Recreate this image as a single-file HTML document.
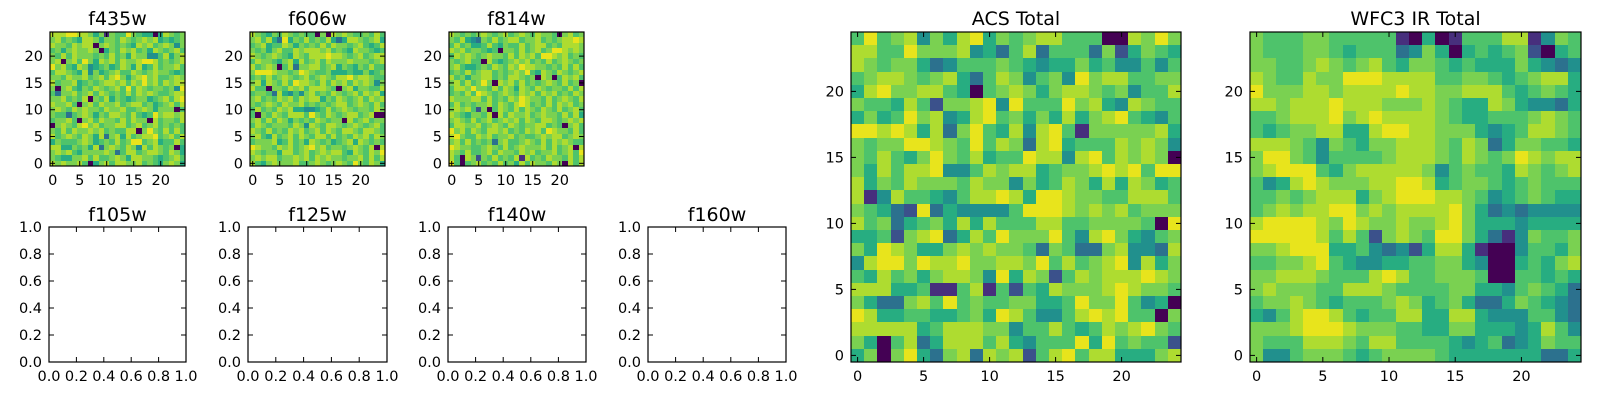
<!DOCTYPE html>
<html><head><meta charset="utf-8"><style>
html,body{margin:0;padding:0;background:#fff;width:1600px;height:400px;overflow:hidden}
svg text{font-family:"DejaVu Sans","Liberation Sans",sans-serif;fill:#000}
</style></head><body>
<svg id="fig" width="1600" height="400" viewBox="0 0 1600 400" xmlns="http://www.w3.org/2000/svg"></svg>
<script>
// ---- data (rows listed from top row y=24 down to y=0; digits 0-9 = relative flux level) ----
const acsRows = [
"69678 47589 57678 86660 08797","88669 77784 53683 66637 25765","87677 53466 67654 55756 44646",
"67887 67853 68746 74978 86677","58977 88650 67875 78876 74668","76658 62778 94966 69785 48766",
"57569 78458 96757 58578 96546","99898 58379 65848 96177 77785","76779 98769 68738 95666 87874",
"76865 79768 56698 84896 87870","75868 89446 87885 67789 89699","85768 77768 77475 68758 58756",
"81486 65468 89859 98776 68886","76532 93544 44699 98787 86777","86735 67585 86668 86677 77609",
"55627 89358 69777 96489 75467","75987 55787 87763 76337 84438","48997 98897 78879 68678 94857",
"65867 57887 49587 26878 88987","88855 61168 16265 87778 98776","75337 86967 66775 56977 96450",
"98556 65567 59864 46898 96607","88888 56888 77466 86568 78976","75068 35888 68546 66959 67662",
"57079 53783 87826 89688 55578"];
const wfc3Rows = [
"76667 76666 61050 16668 81476","76667 76566 63475 05656 72056","77667 87678 65776 56555 75434",
"87668 77999 88886 67765 67885","97778 87888 89887 78886 56765","88788 89888 77787 65587 54435",
"66788 89789 88887 65566 67876","65677 88558 99887 77545 68876","88876 47657 78887 68735 77665",
"79976 46666 78887 68767 98788","78999 65788 88874 67665 87678","64589 87778 89985 67765 67666",
"66767 88857 89998 87645 67655","67878 89978 78888 97534 34444","89999 87987 78778 97555 45555",
"99999 86862 78769 97531 47667","77899 95564 34258 85100 46657","66778 96544 55667 75400 56578",
"77888 76668 98667 77600 66565","78777 66888 76666 77554 67653","67787 65666 78756 75335 76543",
"54689 98656 68855 88544 46643","77789 99877 76655 77555 45864","76668 88768 86666 54563 45766",
"74467 77656 77776 55555 55335"];
const f435Rows = [
"88899 88757 17669 76550 58767","78676 58875 77687 67878 56567","87768 78807 87676 58786 78747",
"67578 77870 57687 86758 76786","76868 77767 68675 87744 68578","78078 69758 78687 78998 67678",
"97865 87456 75687 58568 67786","68876 58475 67866 87678 77656","77687 78678 68975 78978 66787",
"86778 56767 88786 87978 68788","70786 57687 67869 68767 76749","63778 67868 76768 68787 66788",
"77867 68076 85765 67756 78689","87786 07868 77867 88675 67868","78768 78776 87786 67875 77706",
"76636 78757 68876 86569 78878","67786 07868 77686 87708 67768","07876 89786 77886 78678 67676",
"76868 77878 67668 80797 68686","86787 68758 37858 67889 67868","57666 78756 76867 99678 56686",
"88557 67583 78768 74868 76705","78786 57777 87368 86788 76875","76557 78686 67875 88776 56786",
"87877 86057 86887 78676 57875"];
const f606Rows = [
"87657 68767 66070 87876 67686","78685 39576 86768 53588 76785","67856 68757 67686 87767 86568",
"76757 86687 88878 67658 77656","87678 76587 68889 88767 86788","68776 57858 67868 77787 77678",
"86787 06837 78867 85765 76866","79998 77679 87667 55565 57567","67686 78767 86787 68897 88766",
"78587 68698 87686 87868 78747","86607 76878 68887 60785 77668","67763 85464 78676 87678 68785",
"78676 87868 78857 68767 86878","76787 68778 67676 78867 87686","68676 87855 44568 67876 77687",
"60768 76888 69768 76788 67800","78686 87576 76876 77086 78677","68767 77687 48768 87678 76786",
"87686 76878 67868 76887 68876","78658 67868 76886 86768 78687","67778 56867 58767 56785 87676",
"98776 87867 89786 77678 76808","87677 58867 86787 88658 76879","78788 67787 86878 77677 86868",
"86578 77786 67876 78769 76875"];
const f814Rows = [
"87676 78767 86787 68776 07867","76854 37686 78867 78676 78898","68675 56865 76686 78867 68887",
"87867 76560 77686 78679 98787","68787 67877 68687 86998 78676","76786 60865 67878 67686 78767",
"78655 67687 68798 87767 68686","67686 78867 67879 65876 87678","86757 78867 68876 70870 68786",
"78686 79708 78686 76787 68670","68879 77686 87587 68767 76868","67686 98767 87687 86878 67687",
"87778 86867 68798 77686 78768","68676 77868 76898 67686 87867","78786 27068 76868 76876 86786",
"87657 76808 68778 67877 68685","78768 67867 87868 76887 67878","68877 86787 68767 78867 60786",
"97868 76887 86768 78698 77686","89766 87867 78676 67878 86787","78686 76737 86678 76868 78766",
"98776 67876 86787 77868 67808","87686 67868 77687 86778 67869","86087 27686 76818 67687 76868",
"96067 86768 67586 87768 70868"];
const imgTicks = [0, 5, 10, 15, 20];
const imgTickLabels = ["0", "5", "10", "15", "20"];
const unitTicks = [0, 0.2, 0.4, 0.6, 0.8, 1.0];
const unitTickLabels = ["0.0", "0.2", "0.4", "0.6", "0.8", "1.0"];

const palette = ["#440154","#472f7d","#3b518b","#2c718e","#21908d","#27ad81","#4ec36b","#7ad151","#aedc30","#e8e41c"];
const NS = "http://www.w3.org/2000/svg";
const svg = document.getElementById("fig");
function mk(tag, attrs, parent) {
  const e = document.createElementNS(NS, tag);
  for (const k in attrs) e.setAttribute(k, attrs[k]);
  (parent || svg).appendChild(e);
  return e;
}

const panels = [
  {name:"f435w", x:50, y:32, w:135, h:134, rows:f435Rows, titleOff:7},
  {name:"f606w", x:250, y:32, w:135, h:134, rows:f606Rows, titleOff:7},
  {name:"f814w", x:449, y:32, w:135, h:134, rows:f814Rows, titleOff:7},
  {name:"f105w", x:49, y:227, w:137, h:135, rows:null, titleOff:6},
  {name:"f125w", x:248, y:227, w:139, h:135, rows:null, titleOff:6},
  {name:"f140w", x:448, y:227, w:138, h:135, rows:null, titleOff:6},
  {name:"f160w", x:648, y:227, w:138, h:135, rows:null, titleOff:6},
  {name:"ACS Total", x:851, y:32, w:330, h:330, rows:acsRows, titleOff:7},
  {name:"WFC3 IR Total", x:1250, y:32, w:331, h:330, rows:wfc3Rows, titleOff:7}
];

panels.forEach(p => {
  const slug = p.name.toLowerCase().replace(/ /g, "-");
  const g = mk("g", {});
  
  
  let xs, ys, ticks, labels;
  if (p.rows) {
    const grid = p.rows.map(r => r.replace(/ /g, ""));
    const n = grid.length, m = grid[0].length;
    xs = v => p.x + (v + 0.5) / m * p.w;
    ys = v => p.y + p.h - (v + 0.5) / n * p.h;
    const img = mk("g", {"shape-rendering":"crispEdges"}, g);
    
    
    grid.forEach((row, ri) => {
      const yv = n - 1 - ri;
      for (let c = 0; c < m; c++) {
        const x0 = Math.round(xs(c - 0.5)), x1 = Math.round(xs(c + 0.5));
        const y0 = Math.round(ys(yv + 0.5)), y1 = Math.round(ys(yv - 0.5));
        const r = mk("rect", {x:x0, y:y0, width:x1 - x0, height:y1 - y0, fill:palette[+row[c]]}, img);
        
        
      }
    });
    ticks = imgTicks; labels = imgTickLabels;
  } else {
    xs = v => p.x + v * p.w;
    ys = v => p.y + p.h - v * p.h;
    ticks = unitTicks; labels = unitTickLabels;
  }
  ticks.forEach((t, i) => {
    const tx = xs(t), ty = ys(t);
    mk("line", {x1:tx, y1:p.y + p.h, x2:tx, y2:p.y + p.h - 5, stroke:"#000", "stroke-width":1}, g);
    mk("line", {x1:tx, y1:p.y, x2:tx, y2:p.y + 5, stroke:"#000", "stroke-width":1}, g);
    mk("line", {x1:p.x, y1:ty, x2:p.x + 5, y2:ty, stroke:"#000", "stroke-width":1}, g);
    mk("line", {x1:p.x + p.w, y1:ty, x2:p.x + p.w - 5, y2:ty, stroke:"#000", "stroke-width":1}, g);
    const xl = mk("text", {x:tx, y:p.y + p.h + 19, "font-size":14.5, "text-anchor":"middle"}, g);
    xl.textContent = labels[i];
    
    
    const yl = mk("text", {x:p.x - 7, y:ty + 5, "font-size":14.5, "text-anchor":"end"}, g);
    yl.textContent = labels[i];
    
    
  });
  const fr = mk("rect", {x:p.x, y:p.y, width:p.w, height:p.h, fill:"none", stroke:"#000", "stroke-width":1.2}, g);
  
  
  const tt = mk("text", {x:p.x + p.w / 2, y:p.y - p.titleOff, "font-size":19, "text-anchor":"middle"}, g);
  tt.textContent = p.name;
  
  
});
</script>
</body></html>
